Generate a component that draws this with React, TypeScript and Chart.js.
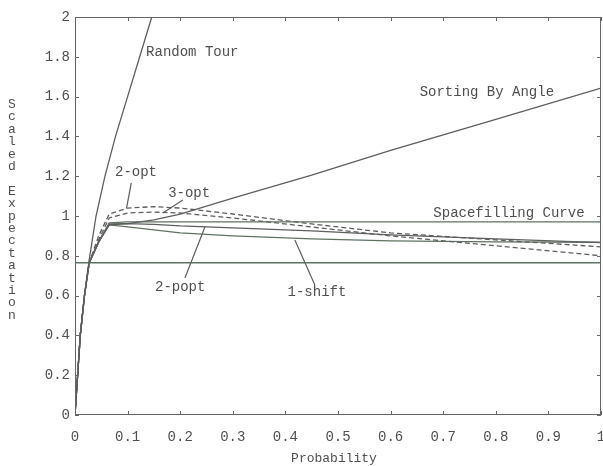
import React, { useEffect, useRef } from "react";
import { Chart, registerables } from "chart.js";
Chart.register(...registerables);

const commonX = [0, 0.005, 0.01, 0.018, 0.027, 0.045, 0.065, 0.1, 0.15, 0.2, 0.3, 0.45, 0.6, 0.8, 1.0];
const twoOpt = [0, 0.2, 0.4, 0.6, 0.765, 0.9, 1.01, 1.04, 1.047, 1.04, 1.01, 0.96, 0.915, 0.88, 0.845];
const threeOpt = [0, 0.2, 0.4, 0.6, 0.765, 0.88, 0.99, 1.015, 1.02, 1.015, 0.99, 0.945, 0.9, 0.85, 0.8];
const twoPopt = [0, 0.2, 0.4, 0.6, 0.765, 0.87, 0.96, 0.962, 0.958, 0.95, 0.94, 0.925, 0.905, 0.885, 0.866];
const oneShift = [0, 0.2, 0.4, 0.6, 0.765, 0.87, 0.955, 0.945, 0.93, 0.915, 0.9, 0.885, 0.875, 0.87, 0.868];
const spacefilling = [0, 0.2, 0.4, 0.6, 0.765, 0.87, 0.965, 0.97, 0.97, 0.97, 0.97, 0.97, 0.97, 0.97, 0.97];
const sortingByAngle = [0, 0.2, 0.4, 0.6, 0.765, 0.87, 0.955, 0.962, 0.98, 1.01, 1.09, 1.205, 1.33, 1.485, 1.643];
const randomTourX = [0, 0.005, 0.01, 0.018, 0.027, 0.04, 0.057, 0.077, 0.1, 0.123, 0.146];
const randomTourY = [0, 0.2, 0.4, 0.6, 0.78, 1.0, 1.2, 1.4, 1.6, 1.8, 2.0];
const lowerBoundX = [0, 1];
const lowerBoundY = [0.765, 0.765];

const labelTexts = ["Random Tour", "Sorting By Angle", "Spacefilling Curve", "2-opt", "3-opt", "2-popt", "1-shift"];
const labelX = [0.223, 0.783, 0.825, 0.116, 0.217, 0.2, 0.46];
const labelY = [1.824, 1.623, 1.015, 1.221, 1.116, 0.643, 0.618];
// pointer lines [x1, y1, x2, y2]
const pointer2opt = [0.107, 1.166, 0.098, 1.04];
const pointer3opt = [0.205, 1.08, 0.167, 1.015];
const pointer2popt = [0.209, 0.688, 0.247, 0.945];
const pointer1shift = [0.456, 0.653, 0.418, 0.879];

const xTitle = "Probability";
const yTitle = "Scaled Expectation";

const FONT = "'Liberation Mono', 'DejaVu Sans Mono', monospace";
const TEXT = "#4f4f4f";
const LINE = "#5e5e5e";
const GREEN = "#5f7363";

function pts(xs: number[], ys: number[]) {
  return xs.map((x, i) => ({ x, y: ys[i] }));
}

function fmt(v: number) {
  return String(Number(v.toFixed(1)));
}

const decorPlugin = {
  id: "decor",
  afterDatasetsDraw(chart: any) {
    const { ctx, chartArea: a, scales } = chart;
    const xs = scales.x;
    const ys = scales.y;
    ctx.save();
    ctx.strokeStyle = "#666";
    ctx.lineWidth = 1;
    ctx.strokeRect(a.left + 0.5, a.top + 0.5, a.right - a.left - 1, a.bottom - a.top - 1);
    const tl = 4;
    ctx.beginPath();
    xs.ticks.forEach((t: any) => {
      const px = Math.round(xs.getPixelForValue(t.value)) + 0.5;
      ctx.moveTo(px, a.bottom);
      ctx.lineTo(px, a.bottom - tl);
      ctx.moveTo(px, a.top);
      ctx.lineTo(px, a.top + tl);
    });
    ys.ticks.forEach((t: any) => {
      const py = Math.round(ys.getPixelForValue(t.value)) + 0.5;
      ctx.moveTo(a.left, py);
      ctx.lineTo(a.left + tl, py);
      ctx.moveTo(a.right, py);
      ctx.lineTo(a.right - tl, py);
    });
    ctx.stroke();

    // pointers
    ctx.strokeStyle = LINE;
    ctx.lineWidth = 1.2;
    [pointer2opt, pointer3opt, pointer2popt, pointer1shift].forEach((p) => {
      ctx.beginPath();
      ctx.moveTo(xs.getPixelForValue(p[0]), ys.getPixelForValue(p[1]));
      ctx.lineTo(xs.getPixelForValue(p[2]), ys.getPixelForValue(p[3]));
      ctx.stroke();
    });

    // labels
    ctx.fillStyle = TEXT;
    ctx.font = "14px " + FONT;
    ctx.textAlign = "center";
    ctx.textBaseline = "middle";
    labelTexts.forEach((t, i) => {
      ctx.fillText(t, xs.getPixelForValue(labelX[i]), ys.getPixelForValue(labelY[i]));
    });

    // x title
    ctx.font = "13px " + FONT;
    ctx.fillText(xTitle, (a.left + a.right) / 2 - 4, 459);

    // y title, stacked letters
    const chars = yTitle.split("");
    const step = 12.4;
    const cy = 210;
    const y0 = cy - ((chars.length - 1) * step) / 2;
    chars.forEach((c, i) => {
      ctx.fillText(c, 12, y0 + i * step);
    });
    ctx.restore();
  },
};

export default function App() {
  const ref = useRef<HTMLCanvasElement | null>(null);
  useEffect(() => {
    if (!ref.current) return;
    const solid = (data: any, color: string) => ({
      data,
      borderColor: color,
      borderWidth: 1.3,
      pointRadius: 0,
      fill: false,
      tension: 0,
    });
    const dashed = (data: any) => ({
      data,
      borderColor: LINE,
      borderWidth: 1.3,
      borderDash: [5, 3],
      pointRadius: 0,
      fill: false,
      tension: 0,
    });
    const chart = new Chart(ref.current, {
      type: "line",
      data: {
        datasets: [
          { label: "Random Tour", ...solid(pts(randomTourX, randomTourY), LINE) },
          { label: "Sorting By Angle", ...solid(pts(commonX, sortingByAngle), LINE) },
          { label: "Spacefilling Curve", ...solid(pts(commonX, spacefilling), GREEN) },
          { label: "2-opt", ...dashed(pts(commonX, twoOpt)) },
          { label: "3-opt", ...dashed(pts(commonX, threeOpt)) },
          { label: "2-popt", ...solid(pts(commonX, twoPopt), LINE) },
          { label: "1-shift", ...solid(pts(commonX, oneShift), GREEN) },
          { label: "Lower bound", ...solid(pts(lowerBoundX, lowerBoundY), GREEN) },
        ] as any,
      },
      options: {
        animation: false,
        responsive: true,
        maintainAspectRatio: false,
        layout: { padding: { left: 0, top: 17, right: 2, bottom: 0 } },
        plugins: { legend: { display: false }, tooltip: { enabled: false } },
        scales: {
          x: {
            type: "linear",
            min: 0,
            max: 1,
            border: { display: false },
            grid: { display: false, drawTicks: false },
            ticks: {
              stepSize: 0.1,
              padding: 14,
              color: TEXT,
              font: { family: FONT, size: 14 },
              maxRotation: 0,
              callback: (v: any) => fmt(Number(v)),
            },
            afterFit: (s: any) => {
              s.height = 51;
              s.paddingLeft = 0;
              s.paddingRight = 0;
            },
          },
          y: {
            type: "linear",
            min: 0,
            max: 2,
            border: { display: false },
            grid: { display: false, drawTicks: false },
            ticks: {
              stepSize: 0.2,
              padding: 5,
              color: TEXT,
              font: { family: FONT, size: 14 },
              callback: (v: any) => fmt(Number(v)),
            },
            afterFit: (s: any) => {
              s.width = 75;
              s.paddingTop = 0;
              s.paddingBottom = 0;
            },
          },
        },
      },
      plugins: [decorPlugin],
    });
    return () => chart.destroy();
  }, []);
  return (
    <div style={{ position: "absolute", left: 0, top: 0, width: 603, height: 466, background: "#fff" }}>
      <canvas ref={ref} />
    </div>
  );
}
